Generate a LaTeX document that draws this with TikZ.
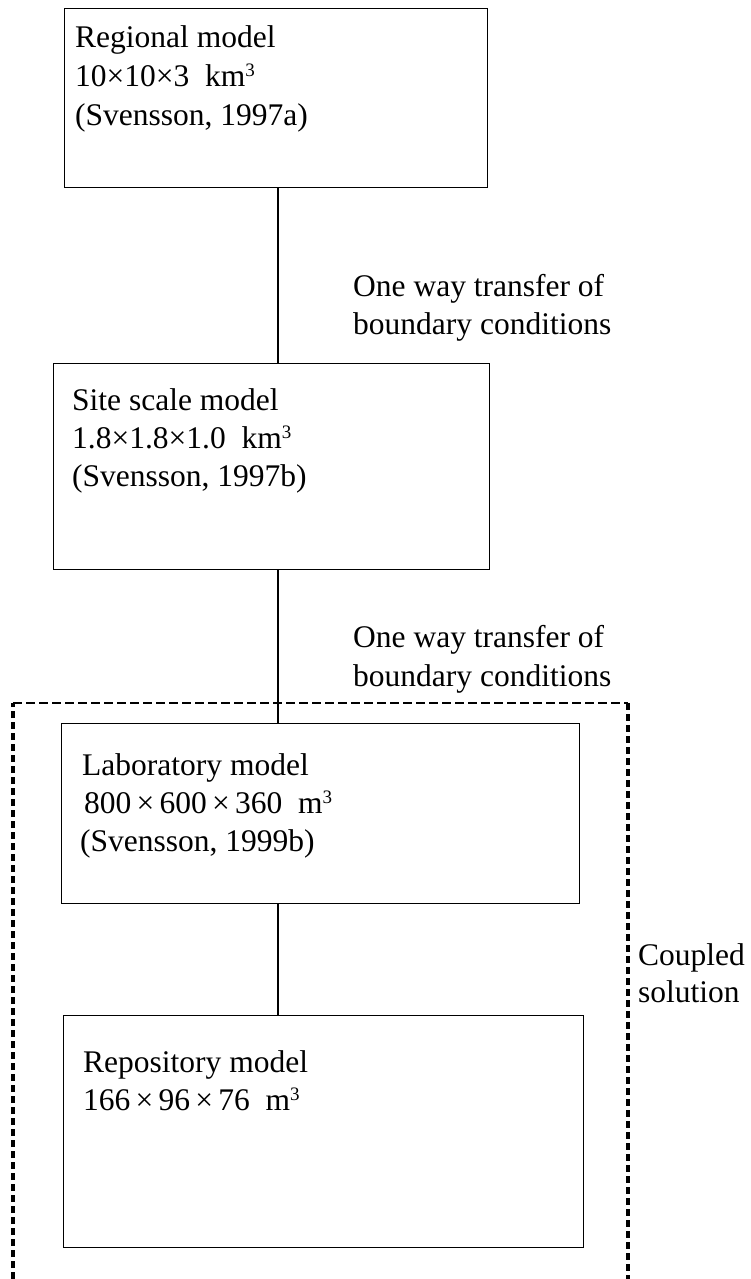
\documentclass[tikz,border=0pt]{standalone}
\usepackage{fontspec}
\setmainfont{Liberation Serif}
\newcommand{\cubesup}{\raisebox{10pt}{\fontsize{19}{19}\selectfont 3}}
\tikzset{
  box/.style={draw, line width=1.3pt, inner sep=0pt, anchor=north west},
  txt/.style={anchor=base west, inner sep=0pt, font=\fontsize{31.5}{38.5}\selectfont},
  conn/.style={line width=1.3pt},
  coupledv/.style={line width=3.2pt, dash pattern=on 7pt off 4pt},
  coupledh/.style={line width=2pt, dash pattern=on 9pt off 4pt},
}
\begin{document}
\begin{tikzpicture}[x=1pt,y=-1pt]
\useasboundingbox (0,0) rectangle (751,1279);
% boxes
\node[box, minimum width=423pt, minimum height=179pt] (reg) at (64,8) {};
\node[box, minimum width=436pt, minimum height=206pt] (site) at (53,363) {};
\node[box, minimum width=518pt, minimum height=180pt] (lab) at (61,723) {};
\node[box, minimum width=520pt, minimum height=232pt] (repo) at (63,1015) {};
% connector line position
\coordinate (xl) at (278,0);
\draw[conn] (reg.south -| xl) -- (site.north -| xl);
\draw[conn] (site.south -| xl) -- (lab.north -| xl);
\draw[conn] (lab.south -| xl) -- (repo.north -| xl);
% coupled dashed frame
\coordinate (cbl) at (13,1279);
\coordinate (ctl) at (13,703);
\coordinate (ctr) at (628,703);
\coordinate (cbr) at (628,1279);
\draw[coupledv] (cbl) -- (ctl);
\draw[coupledh] (ctl) -- (ctr);
\draw[coupledv] (ctr) -- (cbr);
% texts
\node[txt] (r1) at (75,48) {Regional model};
\node[txt] (r2) at (75,87) {10×10×3 \ km\cubesup};
\node[txt] (r3) at (75,126) {(Svensson, 1997a)};
\node[txt] (s1) at (72,410) {Site scale model};
\node[txt] (s2) at (72,448) {1.8×1.8×1.0 \ km\cubesup};
\node[txt] (s3) at (72,486) {(Svensson, 1997b)};
\node[txt] (l1) at (82,775) {Laboratory model};
\node[txt] (l2) at (84,813) {800\,×\,600\,×\,360 \ m\cubesup};
\node[txt] (l3) at (80,851) {(Svensson, 1999b)};
\node[txt] (p1) at (83,1072) {Repository model};
\node[txt] (p2) at (83,1110) {166\,×\,96\,×\,76 \ m\cubesup};
\node[txt] (t1a) at (353,296) {One way transfer of};
\node[txt] (t1b) at (353,334) {boundary conditions};
\node[txt] (t2a) at (353,647) {One way transfer of};
\node[txt] (t2b) at (353,686) {boundary conditions};
\node[txt] (c1) at (638,965) {Coupled};
\node[txt] (c2) at (638,1002) {solution};
\end{tikzpicture}
\end{document}
